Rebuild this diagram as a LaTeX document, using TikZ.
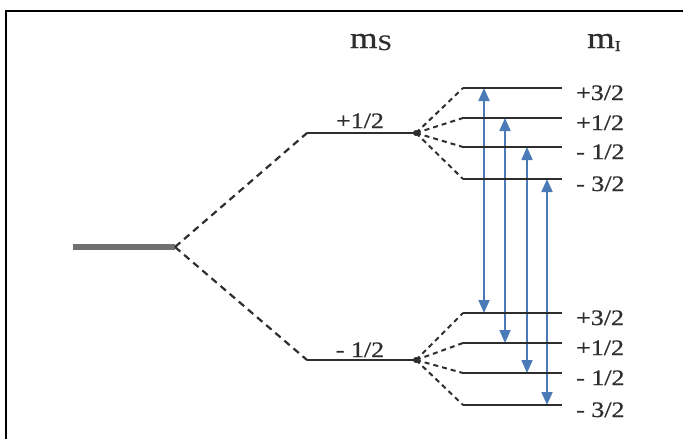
\documentclass[tikz,border=0pt]{standalone}
\usepackage{fontspec}
\usepackage{graphicx}
\setmainfont{Liberation Serif}
\newfontfamily\lblfont[FakeBold=0.8]{Liberation Serif}
\usetikzlibrary{arrows.meta}
\definecolor{levelgray}{HTML}{2E2E2E}
\definecolor{basegray}{HTML}{707070}
\definecolor{transblue}{HTML}{4A7BB7}
% slightly widened lettering
\newcommand{\wide}[1]{\scalebox{1.18}[1]{#1}}

\begin{document}
\begin{tikzpicture}[x=1pt,y=-1pt,
  level/.style={draw=levelgray, line width=2.4pt},
  splitline/.style={draw=levelgray, line width=2.2pt, dash pattern=on 7pt off 5pt},
  subsplit/.style={draw=levelgray, line width=2pt, dash pattern=on 5pt off 4pt},
  trans/.style={draw=transblue, line width=1.8pt,
    {Triangle[length=13pt,width=11pt]}-{Triangle[length=13pt,width=11pt]}},
  qn/.style={inner sep=0pt, text=levelgray, font=\lblfont\fontsize{22}{22}\selectfont},
  head/.style={inner sep=0pt, text=levelgray, font=\lblfont\fontsize{30}{30}\selectfont},
  ]
\useasboundingbox (0,0) rectangle (683,439);

% frame
\draw[line width=2pt] (6,439) -- (6,11) -- (683,11);

% unsplit level and electron-spin levels
\coordinate (g0) at (73,247);
\coordinate (g)  at (175,247);
\coordinate (uL) at (307,133);
\coordinate (uR) at (416,133);
\coordinate (dL) at (307,360);
\coordinate (dR) at (416,360);
\coordinate (q)  at (576,0);

% nuclear-spin sublevels
\foreach \y [count=\i] in {88,118,147,179} {
  \coordinate (ua\i) at (463,\y);
  \coordinate (ub\i) at (562,\y);
}
\foreach \y [count=\i] in {313,343,373,405} {
  \coordinate (la\i) at (463,\y);
  \coordinate (lb\i) at (562,\y);
}

% transitions
\foreach \x [count=\i] in {484,505,527,547} {
  \coordinate (t\i) at (\x,0);
  \draw[trans] (t\i |- ua\i) -- (t\i |- la\i);
}

\draw[draw=basegray, line width=5.5pt] (g0) -- (g);
\draw[splitline] (g) -- (uL);
\draw[splitline] (g) -- (dL);
\draw[level] (uL) -- (uR);
\draw[level] (dL) -- (dR);
\fill[levelgray] (uR) circle (3pt);
\fill[levelgray] (dR) circle (3pt);

\foreach \i in {1,...,4} {
  \draw[subsplit] (uR) -- (ua\i);
  \draw[subsplit] (dR) -- (la\i);
  \draw[level] (ua\i) -- (ub\i);
  \draw[level] (la\i) -- (lb\i);
}

% labels
\node[head, anchor=base] (ms) at (371,48) {\wide{m\raisebox{-2pt}{\fontsize{22}{22}\selectfont S}}};
\node[head, anchor=base west] (mi) at (587,48) {\wide{m\raisebox{-3pt}{\fontsize{15}{15}\selectfont I}}};
\node[qn, anchor=base] (lup) at (360,128) {\wide{+1/2}};
\node[qn, anchor=base] (ldn) at (360,357) {\wide{- 1/2}};

\foreach \t [count=\i] in {+3/2,+1/2,- 1/2,- 3/2} {
  \path (q |- ub\i) ++(0,12) node[qn, anchor=base west] (nu\i) {\wide{\t}};
  \path (q |- lb\i) ++(0,12) node[qn, anchor=base west] (nl\i) {\wide{\t}};
}
\end{tikzpicture}
\end{document}
